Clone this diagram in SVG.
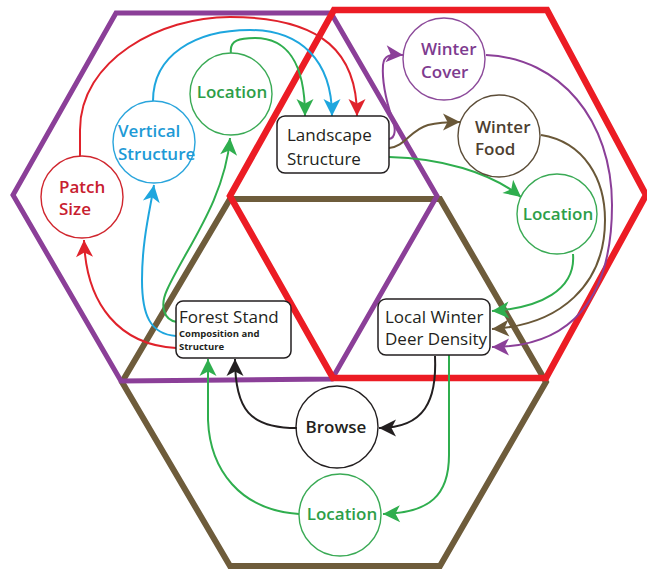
<svg xmlns="http://www.w3.org/2000/svg" width="647" height="573" viewBox="0 0 647 573">
<style>
.hex{fill:none;stroke-linejoin:miter}
.node circle{fill:none;stroke-width:1.4}
.box{fill:#fff;stroke:#231f20;stroke-width:1.5}
.t{font-family:"Open Sans","Liberation Sans",sans-serif;font-size:17px;font-weight:600}
.bt{font-family:"Open Sans","Liberation Sans",sans-serif;font-size:17px;font-weight:500;fill:#231f20}
.st{font-family:"Open Sans","Liberation Sans",sans-serif;font-size:9.5px;font-weight:700;fill:#231f20}
.c{fill:none;stroke-width:2}
.red{stroke:#e0222b}.blue{stroke:#1ea6de}.green{stroke:#2fae4e}.purple{stroke:#8b3f98}.brown{stroke:#6a5838}.black{stroke:#231f20}
</style>
<defs>
<marker id="aRed" markerUnits="userSpaceOnUse" markerWidth="22" markerHeight="22" viewBox="-20 -10 22 20" refX="0" refY="0" orient="auto"><path d="M0,0 L-17,-8.5 L-12.5,0 L-17,8.5 Z" fill="#e0222b"/></marker>
<marker id="aBlue" markerUnits="userSpaceOnUse" markerWidth="22" markerHeight="22" viewBox="-20 -10 22 20" refX="0" refY="0" orient="auto"><path d="M0,0 L-17,-8.5 L-12.5,0 L-17,8.5 Z" fill="#1ea6de"/></marker>
<marker id="aGreen" markerUnits="userSpaceOnUse" markerWidth="22" markerHeight="22" viewBox="-20 -10 22 20" refX="0" refY="0" orient="auto"><path d="M0,0 L-17,-8.5 L-12.5,0 L-17,8.5 Z" fill="#2fae4e"/></marker>
<marker id="aPurple" markerUnits="userSpaceOnUse" markerWidth="22" markerHeight="22" viewBox="-20 -10 22 20" refX="0" refY="0" orient="auto"><path d="M0,0 L-17,-8.5 L-12.5,0 L-17,8.5 Z" fill="#8b3f98"/></marker>
<marker id="aBrown" markerUnits="userSpaceOnUse" markerWidth="22" markerHeight="22" viewBox="-20 -10 22 20" refX="0" refY="0" orient="auto"><path d="M0,0 L-17,-8.5 L-12.5,0 L-17,8.5 Z" fill="#6a5838"/></marker>
<marker id="aBlack" markerUnits="userSpaceOnUse" markerWidth="22" markerHeight="22" viewBox="-20 -10 22 20" refX="0" refY="0" orient="auto"><path d="M0,0 L-17,-8.5 L-12.5,0 L-17,8.5 Z" fill="#231f20"/></marker>
</defs>
<rect width="647" height="573" fill="#fff"/>
<g id="hexagons">
<polygon class="hex" points="230,199 440,199 546,382 440,566 230,566 122,382" stroke="#6e5c3b" stroke-width="6"/>
<polygon class="hex" points="116,13 331,13 437,196 332,379 121,381 13,195" stroke="#8b3f98" stroke-width="5"/>
<polygon class="hex" points="334,10 547,10 646,195 546,378 333,378 230,196" stroke="#ec1c24" stroke-width="6.5"/>
</g>
<g id="connectors">
<path class="c red" d="M176,348 C120,345 86,305 84,240" marker-end="url(#aRed)"/>
<path class="c blue" d="M176,336 C150,334 142,315 142,280 C142,240 150,210 154,185" marker-end="url(#aBlue)"/>
<path class="c green" d="M177,322 C163,320 160,305 167,290 C185,250 225,200 230,138" marker-end="url(#aGreen)"/>
<path class="c red" d="M80,156 L80,130 C80,60 160,17 230,17 C325,17 357,55 357,116" marker-end="url(#aRed)"/>
<path class="c blue" d="M153,101 C153,55 195,30 250,30 C300,30 332,60 332,116" marker-end="url(#aBlue)"/>
<path class="c green" d="M231,53 C229,40 240,38 255,38 C285,38 305,60 305,116" marker-end="url(#aGreen)"/>
<path class="c purple" d="M389,139 C396,138 396,128 392,118 C386,100 382,80 383,65 C384,55 390,54 403,55" marker-end="url(#aPurple)"/>
<path class="c brown" d="M389,148 C405,147 410,130 428,125 C440,122 450,122 460,122" marker-end="url(#aBrown)"/>
<path class="c green" d="M389,157 C440,158 490,172 521,197" marker-end="url(#aGreen)"/>
<path class="c purple" d="M486,55 C560,58 612,120 612,205 C612,300 570,347 492,347" marker-end="url(#aPurple)"/>
<path class="c brown" d="M541,135 C585,142 605,180 605,220 C605,285 560,325 492,329" marker-end="url(#aBrown)"/>
<path class="c green" d="M573,254 C576,290 540,308 492,311" marker-end="url(#aGreen)"/>
<path class="c black" d="M435,356 C437,400 425,428 379,428" marker-end="url(#aBlack)"/>
<path class="c black" d="M297,428 C250,428 235,410 235,359" marker-end="url(#aBlack)"/>
<path class="c green" d="M449,355 L449,455 C449,495 430,513 383,514" marker-end="url(#aGreen)"/>
<path class="c green" d="M299,514 C240,510 210,470 208,420 L208,359" marker-end="url(#aGreen)"/>
</g>
<g id="patch-size" class="node">
<circle cx="82" cy="197" r="41" stroke="#d0262e"/>
<text class="t" fill="#c8202f"><tspan x="59" y="193">Patch</tspan><tspan x="59" y="215">Size</tspan></text>
</g>
<g id="vertical-structure" class="node">
<circle cx="154" cy="142" r="41" stroke="#2aa5dc"/>
<text class="t" fill="#1e9ad6"><tspan x="118" y="137">Vertical</tspan><tspan x="118" y="160">Structure</tspan></text>
</g>
<g id="location-top" class="node">
<circle cx="231" cy="94" r="41" stroke="#3aaa55"/>
<text class="t" fill="#2d9e48" x="232" y="98" text-anchor="middle">Location</text>
</g>
<g id="landscape-structure" class="node">
<rect class="box" x="277" y="116" width="112" height="57" rx="8"/>
<text class="bt"><tspan x="287" y="141">Landscape</tspan><tspan x="287" y="165">Structure</tspan></text>
</g>
<g id="winter-cover" class="node">
<circle cx="444" cy="59" r="41" stroke="#8c4a9a"/>
<text class="t" fill="#7e3b8f"><tspan x="421" y="55">Winter</tspan><tspan x="421" y="78">Cover</tspan></text>
</g>
<g id="winter-food" class="node">
<circle cx="499" cy="136" r="41" stroke="#5c4d38"/>
<text class="t" fill="#4d4030"><tspan x="475" y="133">Winter</tspan><tspan x="475" y="155">Food</tspan></text>
</g>
<g id="location-right" class="node">
<circle cx="557" cy="214" r="40" stroke="#3aaa55"/>
<text class="t" fill="#2d9e48" x="558" y="220" text-anchor="middle">Location</text>
</g>
<g id="forest-stand" class="node">
<rect class="box" x="176" y="301" width="115" height="57" rx="7"/>
<text class="bt" x="179" y="323">Forest Stand</text>
<text class="st"><tspan x="179" y="337">Composition and</tspan><tspan x="179" y="350">Structure</tspan></text>
</g>
<g id="local-winter-deer-density" class="node">
<rect class="box" x="378" y="299" width="112" height="56" rx="8"/>
<text class="bt"><tspan x="385" y="323">Local Winter</tspan><tspan x="385" y="345">Deer Density</tspan></text>
</g>
<g id="browse" class="node">
<circle cx="337" cy="427" r="41" stroke="#231f20"/>
<text class="t" fill="#231f20" x="336" y="433" text-anchor="middle">Browse</text>
</g>
<g id="location-bottom" class="node">
<circle cx="340" cy="515" r="41" stroke="#3aaa55"/>
<text class="t" fill="#2d9e48" x="342" y="520" text-anchor="middle">Location</text>
</g>
</svg>
